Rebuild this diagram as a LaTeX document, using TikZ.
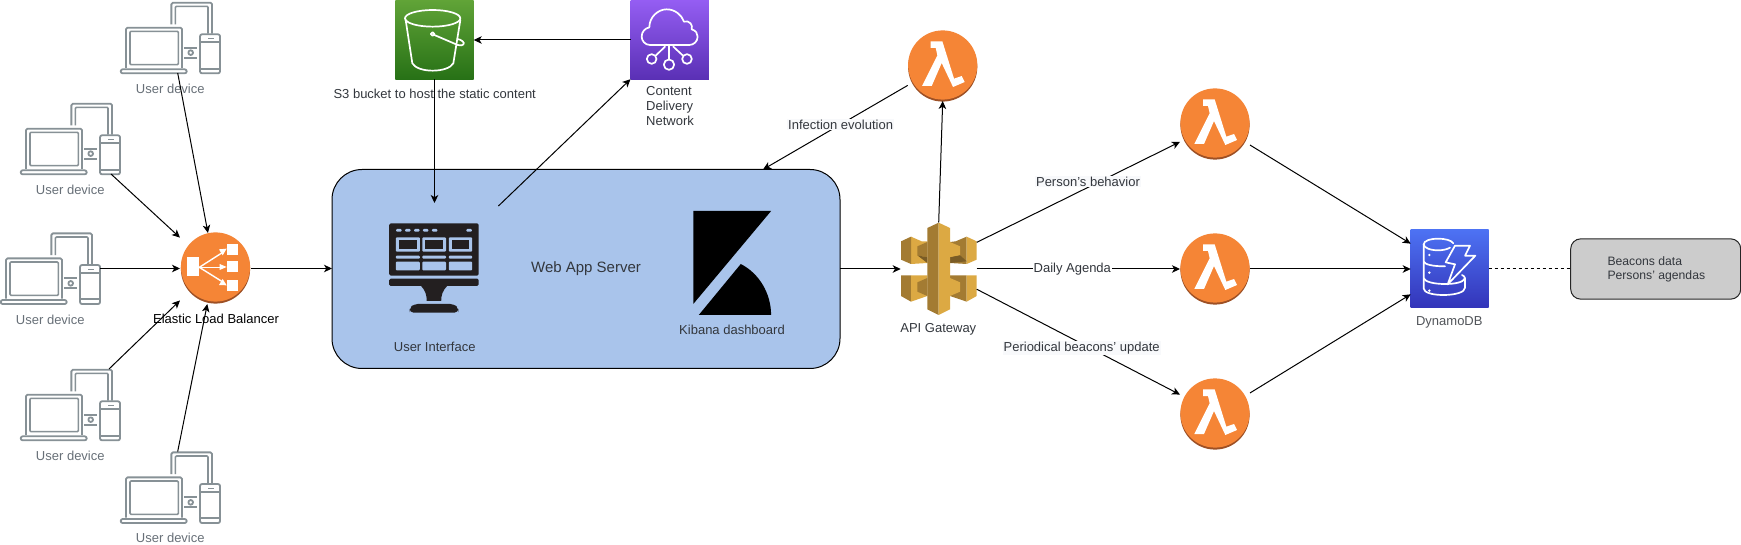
\documentclass[tikz,border=0pt]{standalone}
\usepackage{fontspec}
\setmainfont{Liberation Sans}
\usetikzlibrary{arrows.meta}
\definecolor{orangeA}{HTML}{F58536}
\definecolor{orangeB}{HTML}{9D5025}
\definecolor{devgrey}{HTML}{879196}
\definecolor{devtext}{HTML}{687078}
\definecolor{labeltext}{HTML}{33373D}
\definecolor{serverblue}{HTML}{A9C4EB}
\definecolor{uiblack}{HTML}{231F20}
\definecolor{goldA}{HTML}{DCA943}
\definecolor{goldB}{HTML}{A37B32}
\definecolor{goldC}{HTML}{7A5C26}
\definecolor{labelbg}{HTML}{F8F9FB}
\definecolor{s3top}{HTML}{60A337}
\definecolor{s3bot}{HTML}{277116}
\definecolor{cdntop}{HTML}{945DF2}
\definecolor{cdnbot}{HTML}{5A30B5}
\definecolor{ddbtop}{HTML}{4D72F3}
\definecolor{ddbbot}{HTML}{3334B9}
\tikzset{
  conn/.style={line width=1pt,black,-{Stealth[length=8pt,width=7.5pt,inset=2.2pt]}},
  iconbox/.style={inner sep=0pt,outer sep=0pt,minimum width=#1,minimum height=#1},
  devbox/.style={inner sep=0pt,outer sep=0pt,minimum width=99.4pt,minimum height=71pt},
  txt/.style={inner sep=0pt,font=\fontsize{13}{15}\selectfont,text=labeltext},
  devlabel/.style={txt,text=devtext},
  edgelabel/.style={inner sep=1pt,font=\fontsize{13}{15}\selectfont,text=labeltext,fill=labelbg},
  white stroke/.style={draw=white,line width=1.7pt,line join=round,line cap=round},
  deviceicon/.pic={
    \begin{scope}[scale=1/3,draw=devgrey,line width=1.8pt,line join=round]
      \draw[rounded corners=1.5pt] (16,198) -- (16,77) -- (184,77) -- (184,198);
      \draw[rounded corners=1pt,line width=1.6pt] (28,88) rectangle (173,188);
      \draw[rounded corners=2pt] (0,202) rectangle (198,214);
      \draw[rounded corners=1.5pt] (152,67) -- (152,2) -- (274,2) -- (274,95);
      \draw[rounded corners=1pt,line width=1.6pt] (164,67) -- (164,13) -- (262,13) -- (262,95);
      \draw[rounded corners=2pt] (238,97) rectangle (298,214);
      \draw (238,120) -- (298,120) (238,200) -- (298,200);
      \draw[line width=1pt] (262,110) -- (280,110);
      \draw (190,137) -- (230,137) (190,167) -- (230,167);
      \draw (210,152) circle (7);
    \end{scope}
  },
  orangedisc/.pic={
    \fill[orangeB] (0,1) circle (34.6);
    \fill[orangeA] (0,-1) circle (34.6);
  },
  lambdaicon/.pic={
    \fill[orangeB] (0,1) circle (34.6);
    \fill[orangeA] (0,-1) circle (34.6);
    \fill[white,scale=1/3] (-36,-74) -- (-1,-74) -- (34,38) -- (57,30) -- (66,48) -- (31,63)
      -- (-3,-9) -- (-33,60) -- (-62,60) -- (-16,-32) -- (-21,-54) -- (-36,-54) -- cycle;
  }
}
\begin{document}
\begin{tikzpicture}[x=1pt,y=-1pt]
\useasboundingbox (0,0) rectangle (1741,545);
\fill[white] (0,0) rectangle (1741,545);

% device icons
\foreach \ox/\oy in {120.7/2,20.7/103,0.7/232.7,20.7/369,120.7/451.7}
  \pic at (\ox,\oy) {deviceicon};
\node[devbox] (dev1) at (170.4,37.5) {};
\node[devbox] (dev2) at (70.4,138.5) {};
\node[devbox] (dev3) at (50.4,268.5) {};
\node[devbox] (dev4) at (70.4,404.5) {};
\node[devbox] (dev5) at (170.4,487) {};
\node[devlabel] (devl1) at (170.3,88.5) {User device};
\node[devlabel] (devl2) at (70.3,189.5) {User device};
\node[devlabel] (devl3) at (50.3,319.5) {User device};
\node[devlabel] (devl4) at (70.3,455.5) {User device};
\node[devlabel] (devl5) at (170.3,537.5) {User device};

% load balancer
\node[iconbox=71pt] (elb) at (215.5,268.5) {};
\pic at (215.5,268) {orangedisc};
\begin{scope}[shift={(175,228)},scale=1/3]
  \fill[white] (35,88) rectangle (73,145);
  \fill[white] (155,47) rectangle (190,80);
  \fill[white] (155,100) rectangle (190,133);
  \fill[white] (155,155) rectangle (190,188);
  \draw[white,line width=1.4pt] (73,118) -- (145,72);
  \draw[white,line width=1.4pt] (73,118) -- (145,118);
  \draw[white,line width=1.4pt] (73,118) -- (145,163);
  \fill[white] (155,62) -- (132,64) -- (143,82) -- cycle;
  \fill[white] (155,117) -- (134,108) -- (134,126) -- cycle;
  \fill[white] (155,172) -- (143,153) -- (132,171) -- cycle;
\end{scope}
\node[txt,text=black] (elbl) at (216,318.5) {Elastic Load Balancer};

% server
\node[draw=black,line width=1pt,fill=serverblue,rounded corners=30pt,inner sep=0pt,outer sep=0pt,
      minimum width=508pt,minimum height=199pt] (server) at (586,269) {};
\begin{scope}[shift={(320,160)},xscale=1/2.904,yscale=1/3]
  \fill[uiblack,rounded corners=1.5pt] (201,190) rectangle (461,347);
  \fill[uiblack,rounded corners=1.5pt] (201,356) rectangle (461,378);
  \fill[uiblack] (293,377) -- (370,377) .. controls (356,392) and (352,405) .. (352,423) -- (310,423) .. controls (310,405) and (306,392) .. (293,377) -- cycle;
  \fill[uiblack,rounded corners=4pt] (260,458) -- (260,445) -- (272,432) -- (390,432) -- (402,445) -- (402,458) -- cycle;
  \foreach \a in {221,247,273,299,325,425}
    \fill[serverblue,rounded corners=1pt] (\a,207) rectangle (\a+16,215);
  \foreach \a/\b in {220/290,297/366,374/442}{
    \fill[serverblue,rounded corners=1pt] (\a,232) rectangle (\b,275);
    \fill[uiblack] (\a+9,241) rectangle (\b-9,267);
    \fill[serverblue,rounded corners=1pt] (\a,287) rectangle (\b,296);
    \fill[serverblue,rounded corners=1pt] (\a,305) rectangle (\b,331);
  }
  \fill[black] (1084,153) -- (1310,153) -- (1084,432) -- cycle;
  \fill[black] (1100,465) -- (1222,312) .. controls (1275,340) and (1310,400) .. (1310,465) -- cycle;
\end{scope}
\coordinate (uiin) at (434.5,203);
\coordinate (uiout) at (498.4,206);
\node[txt] (uil) at (434.7,346.5) {User Interface};
\node[txt,font=\fontsize{15}{17}\selectfont] (webl) at (586,268.7) {Web App Server};
\node[txt] (kibl) at (732,329.5) {Kibana dashboard};

% S3
\node[iconbox=78.4pt,top color=s3top,bottom color=s3bot] (s3) at (434.5,40) {};
\begin{scope}[shift={(320,0)},scale=1/3]
  \draw[white stroke] (338,55) ellipse (83 and 25);
  \draw[white stroke] (257,60) -- (277,190) .. controls (285,204) and (310,212) .. (338,212) .. controls (366,212) and (392,204) .. (400,190) -- (421,60);
  \draw[white stroke] (338,102) circle (5.5);
  \draw[white stroke] (343,105) -- (413,135) .. controls (430,140) and (436,130) .. (428,124) .. controls (424,120) and (418,118) .. (412,117);
\end{scope}
\node[txt] (s3l) at (434.7,93.5) {S3 bucket to host the static content};

% CDN
\node[iconbox=78.4pt,top color=cdntop,bottom color=cdnbot] (cdn) at (669.7,40) {};
\begin{scope}[shift={(320,0)},scale=1/3]
  \draw[white stroke] (990,135) .. controls (975,135) and (965,122) .. (965,110) .. controls (965,95) and (975,85) .. (988,82)
    .. controls (988,50) and (1015,28) .. (1040,28) .. controls (1065,28) and (1085,45) .. (1092,65)
    .. controls (1108,60) and (1120,75) .. (1115,88) .. controls (1128,92) and (1133,100) .. (1133,110)
    .. controls (1133,125) and (1120,135) .. (1108,135) -- cycle;
  \draw[white stroke] (1047,135) -- (1047,177);
  \draw[white stroke] (1035,140) -- (1008,166);
  \draw[white stroke] (1060,140) -- (1088,166);
  \draw[white stroke] (1047,194) circle (15.5);
  \draw[white stroke] (995,177) circle (14.5);
  \draw[white stroke] (1101,177) circle (14.5);
\end{scope}
\node[txt,align=left,anchor=north west] (cdnl) at (646,86) {Content\\Delivery\\Network};

% API gateway
\node[inner sep=0pt,outer sep=0pt,minimum width=76pt,minimum height=93pt] (api) at (938.7,269) {};
\begin{scope}[shift={(895,218)},scale=1/3]
  \fill[goldA] (48,56) -- (80,70) -- (97,70) -- (97,135) -- (48,138) -- cycle;
  \fill[goldB] (18,70) -- (48,56) -- (48,138) -- (18,125) -- cycle;
  \fill[goldB] (67,85) -- (97,72) -- (97,118) -- (67,112) -- cycle;
  \fill[goldC] (67,112) -- (97,118) -- (97,135) -- cycle;
  \fill[goldB] (182,70) -- (215,56) -- (215,138) -- (165,135) -- (165,72) -- cycle;
  \fill[goldA] (215,56) -- (245,70) -- (245,125) -- (215,138) -- cycle;
  \fill[goldA] (165,72) -- (195,85) -- (195,112) -- (165,118) -- cycle;
  \fill[goldC] (165,118) -- (195,112) -- (215,130) -- (165,135) -- cycle;
  \fill[goldB] (18,172) -- (48,172) -- (48,251) -- (18,234) -- cycle;
  \fill[goldA] (48,172) -- (97,172) -- (97,234) -- (48,251) -- cycle;
  \fill[goldB] (67,193) -- (97,180) -- (97,234) -- (67,221) -- cycle;
  \fill[goldB] (165,172) -- (215,172) -- (215,251) -- (165,234) -- cycle;
  \fill[goldA] (215,172) -- (245,172) -- (245,234) -- (215,251) -- cycle;
  \fill[goldA] (165,180) -- (195,193) -- (195,221) -- (165,234) -- cycle;
  \fill[goldB] (97,30) -- (131,14) -- (131,291) -- (97,274) -- cycle;
  \fill[goldA] (131,14) -- (165,30) -- (165,274) -- (131,291) -- cycle;
\end{scope}
\node[txt] (apil) at (938.3,329.5) {API Gateway};

% lambdas
\node[iconbox=70pt] (lam1) at (942.7,66) {};
\node[iconbox=70pt] (lam2) at (1215,124) {};
\node[iconbox=70pt] (lam3) at (1215,269) {};
\node[iconbox=70pt] (lam4) at (1215,414) {};
\pic at (942.7,66) {lambdaicon};
\pic at (1215,124) {lambdaicon};
\pic at (1215,269) {lambdaicon};
\pic at (1215,414) {lambdaicon};

% DynamoDB
\node[iconbox=78pt,top color=ddbtop,bottom color=ddbbot] (ddb) at (1449.7,269) {};
\begin{scope}[shift={(1400,225)},scale=1/3]
  \draw[white stroke] (150,68) .. controls (140,74) and (125,76) .. (115,76) .. controls (90,76) and (71,68) .. (71,58) .. controls (71,48) and (90,41) .. (115,41) .. controls (135,41) and (155,46) .. (160,55);
  \draw[white stroke] (71,58) -- (71,190) .. controls (71,202) and (95,210) .. (130,210) .. controls (165,210) and (195,202) .. (195,188) -- (195,160) .. controls (195,155) and (190,152) .. (186,150);
  \draw[white stroke] (71,110) .. controls (75,118) and (95,124) .. (135,124);
  \draw[white stroke] (71,160) .. controls (75,170) and (100,177) .. (135,177) .. controls (165,177) and (190,172) .. (195,160);
  \fill[white] (88,90) circle (4) (88,143) circle (4) (88,197) circle (4);
  \draw[white stroke] (165,62) -- (210,62) -- (195,92) -- (226,92) -- (143,178) -- (165,118) -- (137,112) -- cycle;
\end{scope}
\node[txt,text=labeltext!85!white] (ddbl) at (1449.3,322) {DynamoDB};

% data box
\node[draw=black!85,line width=1pt,fill=black!20,rounded corners=10pt,inner sep=0pt,outer sep=0pt,
      minimum width=170pt,minimum height=60.3pt] (data) at (1655.7,269) {};
\node[txt,align=left,anchor=west,font=\fontsize{12.2}{14}\selectfont] (datal) at (1607.3,269.7) {Beacons data\\Persons' agendas};

% connectors
\draw[conn] ([xshift=7.3pt]dev1.south) -- (elb.102);
\draw[conn] ([xshift=40.6pt]dev2.south) -- (elb.139);
\draw[conn] (dev3.east) -- (elb.west);
\draw[conn] ([xshift=38.6pt]dev4.north) -- (elb.222);
\draw[conn] ([xshift=7.3pt]dev5.north) -- (elb.257);
\draw[conn] (elb.east) -- ([yshift=0.5pt]server.west);
\draw[conn] (cdn.west) -- (s3.east);
\draw[conn] (s3.south) -- (uiin);
\draw[conn] (uiout) -- (cdn.south west);
\draw[conn] (server.east) -- (api.west);
\draw[conn] (api.north) -- (lam1.south);
\draw[conn] (lam1.209) -- ([xshift=177pt]server.north);
\draw[conn] (api.35) -- (lam2.207);
\draw[conn] (api.east) -- (lam3.west);
\draw[conn] (api.332) -- (lam4.151);
\draw[conn] (lam2.329) -- (ddb.147);
\draw[conn] (lam3.east) -- (ddb.west);
\draw[conn] (lam4.31) -- (ddb.213);
\draw[line width=1pt,dash pattern=on 3pt off 3pt] (ddb.east) -- (data.west);

% connector labels
\node[edgelabel] (e1) at (840.6,124.4) {Infection evolution};
\node[edgelabel] (e2) at (1088,181.7) {Person's behavior};
\node[edgelabel,fill=white] (e3) at (1072.3,269) {Daily Agenda};
\node[edgelabel] (e4) at (1081.7,348.3) {Periodical beacons' update};
\end{tikzpicture}
\end{document}
